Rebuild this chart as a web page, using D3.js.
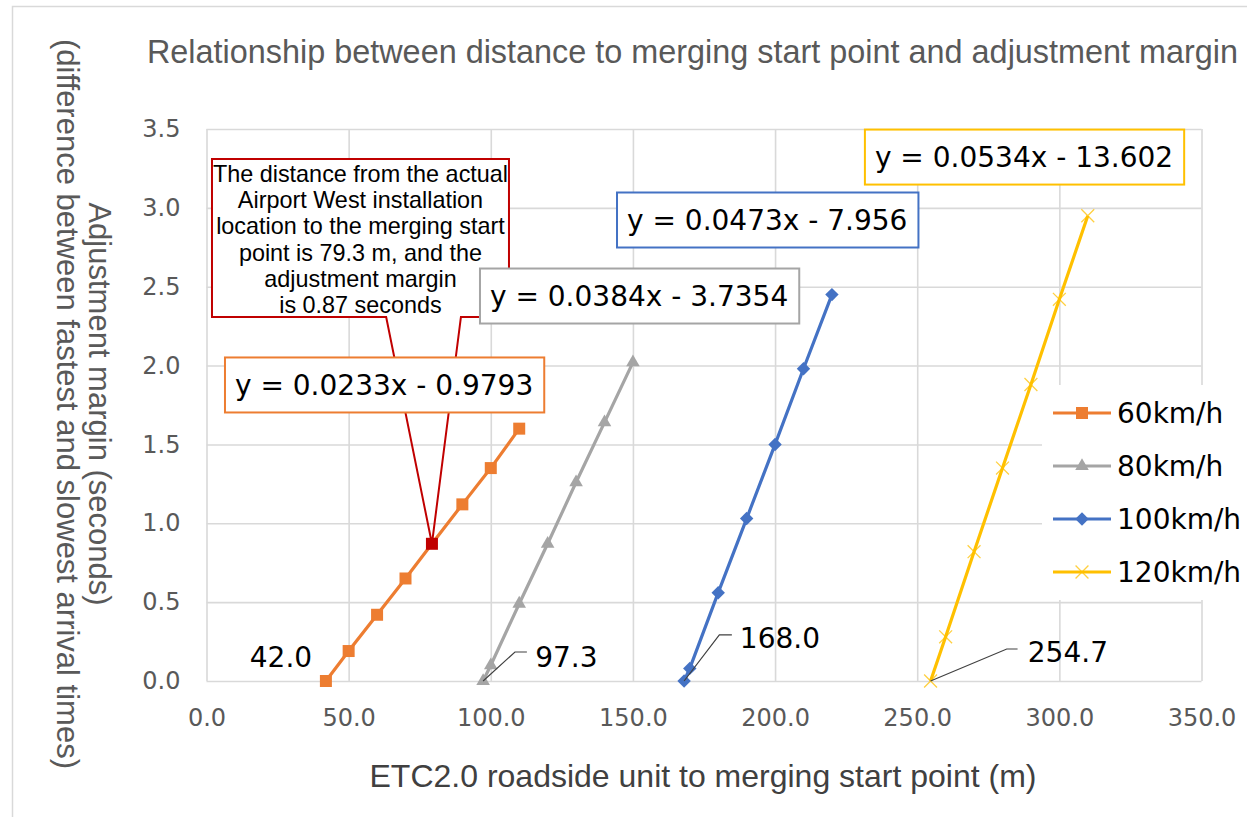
<!DOCTYPE html>
<html><head><meta charset="utf-8">
<script src="https://cdn.jsdelivr.net/npm/d3@7"></script>
<style>body{margin:0;background:#fff;overflow:hidden;} svg{display:block;}</style>
</head><body><svg id="c" width="1247" height="817"></svg>
<script>
// ---------- data ----------
const xTicks = [0, 50, 100, 150, 200, 250, 300, 350];
const yTicks = [0, 0.5, 1.0, 1.5, 2.0, 2.5, 3.0, 3.5];
const seriesNames = ["60km/h", "80km/h", "100km/h", "120km/h"];
const x60 = [42.0, 50, 60, 70, 79.3, 90, 100, 110];
const y60 = [0, 0.19, 0.42, 0.65, 0.87, 1.12, 1.35, 1.60];
const x80 = [97.3, 100, 110, 120, 130, 140, 150];
const y80 = [0, 0.10, 0.49, 0.87, 1.26, 1.64, 2.02];
const x100 = [168.0, 170, 180, 190, 200, 210, 220];
const y100 = [0, 0.08, 0.56, 1.03, 1.50, 1.98, 2.45];
const x120 = [254.7, 260, 270, 280, 290, 300, 310];
const y120 = [0, 0.28, 0.82, 1.35, 1.88, 2.42, 2.95];
const highlightX = 79.3, highlightY = 0.87;
const equations = ["y = 0.0233x - 0.9793", "y = 0.0384x - 3.7354", "y = 0.0473x - 7.956", "y = 0.0534x - 13.602"];
const interceptLabels = ["42.0", "97.3", "168.0", "254.7"];
const calloutLines = ["The distance from the actual", "Airport West installation", "location to the merging start",
  "point is 79.3 m, and the", "adjustment margin", "is 0.87 seconds"];
const titleText = "Relationship between distance to merging start point and adjustment margin";
const xTitle = "ETC2.0 roadside unit to merging start point (m)";
const yTitle1 = "Adjustment margin (seconds)";
const yTitle2 = "(difference between fastest and slowest arrival times)";

// ---------- layout / style (annotation anchors in data units) ----------
const colors = ["#ED7D31", "#A5A5A5", "#4472C4", "#FFC000"];
const eqLayout = [ {left: 6.5, mid: 1.877}, {left: 96.2, mid: 2.441}, {left: 144.4, mid: 2.923}, {left: 231.6, mid: 3.322} ];
const lblLayout = [
  {tx: 26.2, ty: 0.089, anchor: "middle", leader: null},
  {tx: 115.6, ty: 0.089, anchor: "start", leader: [[108.5, 0.184], [112.7, 0.184]]},
  {tx: 187.6, ty: 0.209, anchor: "start", leader: [[180.4, 0.292], [184.8, 0.292]]},
  {tx: 288.9, ty: 0.120, anchor: "start", leader: [[281.5, 0.203], [285.3, 0.203]]}
];
const callout = {left: 1.93, right: 106.4, top: 3.31, bottom: 2.308, wedgeL: 63.2, wedgeR: 89.5};

const svg = d3.select("#c");
const W = 1247, H = 817;
const x = d3.scaleLinear().domain([0, 350]).range([206.5, 1201.5]);
const y = d3.scaleLinear().domain([0, 3.5]).range([681, 129]);
const grid = "#d9d9d9";
const labelFont = "'DejaVu Sans', Verdana, sans-serif";
const textFont = "'Liberation Sans', Arial, sans-serif";

svg.append("rect").attr("width", W).attr("height", H).attr("fill", "#fff");
// outer chart border (top & left visible)
svg.append("path").attr("d", `M12.5,${H} V6.5 H${W}`).attr("fill", "none").attr("stroke", grid).attr("stroke-width", 1.5);

// gridlines
const gx = svg.append("g").attr("transform", `translate(0,${y(0)})`)
  .call(d3.axisBottom(x).tickValues(xTicks).tickSize(-(y(0) - y(3.5))).tickFormat(""));
const gy = svg.append("g").attr("transform", `translate(${x(0)},0)`)
  .call(d3.axisLeft(y).tickValues(yTicks).tickSize(-(x(350) - x(0))).tickFormat(""));
[gx, gy].forEach(g => { g.select(".domain").remove(); g.selectAll("line").attr("stroke", grid).attr("stroke-width", 1.6); });

// tick labels
const ax = svg.append("g").attr("transform", `translate(0,${y(0)})`)
  .call(d3.axisBottom(x).tickValues(xTicks).tickSize(0).tickPadding(28).tickFormat(d3.format(".1f")));
const ay = svg.append("g").attr("transform", `translate(${x(0)},0)`)
  .call(d3.axisLeft(y).tickValues(yTicks).tickSize(0).tickPadding(26).tickFormat(d3.format(".1f")));
[ax, ay].forEach(g => { g.select(".domain").remove();
  g.selectAll("text").attr("font-family", labelFont).attr("font-size", 24).attr("fill", "#595959"); });

// series
const series = [
  {xs: x60, ys: y60, shape: "square"},
  {xs: x80, ys: y80, shape: "triangle"},
  {xs: x100, ys: y100, shape: "diamond"},
  {xs: x120, ys: y120, shape: "x"}
];
const line = d3.line().x(d => x(d[0])).y(d => y(d[1]));

function marker(g, shape, color, cx, cy) {
  if (shape === "square") {
    g.append("path").attr("d", d3.symbol(d3.symbolSquare, 144)()).attr("fill", color)
      .attr("transform", `translate(${cx},${cy})`);
  } else if (shape === "triangle") {
    g.append("path").attr("d", d3.symbol(d3.symbolTriangle, 80)()).attr("fill", color)
      .attr("transform", `translate(${cx},${cy})`);
  } else if (shape === "diamond") {
    g.append("path").attr("d", d3.symbol(d3.symbolSquare, 90)()).attr("fill", color)
      .attr("transform", `translate(${cx},${cy}) rotate(45)`);
  } else {
    g.append("path").attr("d", d3.symbol(d3.symbolX, 110)()).attr("fill", "none")
      .attr("stroke", color).attr("stroke-width", 1.3).attr("stroke-opacity", 0.75)
      .attr("transform", `translate(${cx},${cy})`);
  }
}

series.forEach((s, i) => {
  const pts = s.xs.map((v, j) => [v, s.ys[j]]);
  const g = svg.append("g");
  g.append("path").attr("d", line(pts)).attr("fill", "none").attr("stroke", colors[i])
    .attr("stroke-width", 3.2).attr("stroke-linejoin", "round");
  pts.forEach(p => {
    const c = (i === 0 && p[0] === highlightX) ? "#C00000" : colors[i];
    marker(g, s.shape, c, x(p[0]), y(p[1]));
  });
});

// intercept data labels + leader lines
lblLayout.forEach((L, i) => {
  const s = series[i];
  if (L.leader) {
    const pts = [[s.xs[0], s.ys[0]]].concat(L.leader);
    svg.append("path").attr("d", line(pts)).attr("fill", "none").attr("stroke", "#404040").attr("stroke-width", 1.2);
  }
  svg.append("text").attr("x", x(L.tx)).attr("y", y(L.ty)).attr("text-anchor", L.anchor)
    .attr("font-family", labelFont).attr("font-size", 28).attr("fill", "#000").text(interceptLabels[i]);
});

// red callout
const cg = svg.append("g");
cg.append("rect").attr("x", x(callout.left)).attr("y", y(callout.top))
  .attr("width", x(callout.right) - x(callout.left)).attr("height", y(callout.bottom) - y(callout.top))
  .attr("fill", "#fff");
cg.append("path").attr("d",
  `M${x(callout.wedgeR)},${y(callout.bottom)} H${x(callout.right)} V${y(callout.top)} H${x(callout.left)} V${y(callout.bottom)} H${x(callout.wedgeL)} L${x(highlightX)},${y(highlightY)} Z`)
  .attr("fill", "none").attr("stroke", "#C00000").attr("stroke-width", 2).attr("stroke-linejoin", "miter");
const cx0 = (x(callout.left) + x(callout.right)) / 2;
calloutLines.forEach((t, k) => {
  cg.append("text").attr("x", cx0).attr("y", y(callout.top) + 22.7 + k * 26.3)
    .attr("text-anchor", "middle").attr("font-family", textFont).attr("font-size", 23.4).attr("fill", "#000").text(t);
});

// equation boxes (order: orange, gray, blue, yellow)
equations.forEach((eq, i) => {
  const g = svg.append("g");
  const r = g.append("rect");
  const t = g.append("text").attr("x", x(eqLayout[i].left) + 10).attr("y", y(eqLayout[i].mid)).attr("dy", "0.36em")
    .attr("font-family", labelFont).attr("font-size", 28).attr("fill", "#000").text(eq);
  const w = t.node().getComputedTextLength();
  r.attr("x", x(eqLayout[i].left)).attr("y", y(eqLayout[i].mid) - 27.5).attr("width", w + 21).attr("height", 55)
    .attr("fill", "#fff").attr("stroke", colors[i]).attr("stroke-width", 2);
});

// legend
const lg = svg.append("g");
lg.append("rect").attr("x", 1042).attr("y", 385).attr("width", 205).attr("height", 215).attr("fill", "#fff");
seriesNames.forEach((n, i) => {
  const cy = 413 + i * 53;
  lg.append("line").attr("x1", 1053).attr("x2", 1111).attr("y1", cy).attr("y2", cy)
    .attr("stroke", colors[i]).attr("stroke-width", 3);
  marker(lg, series[i].shape, colors[i], 1082, cy);
  lg.append("text").attr("x", 1117).attr("y", cy).attr("dy", "0.36em").attr("font-family", labelFont)
    .attr("font-size", 28).attr("fill", "#000").text(n);
});

// titles
svg.append("text").attr("x", 692.5).attr("y", 63).attr("text-anchor", "middle").attr("font-family", textFont)
  .attr("font-size", 32.4).attr("fill", "#595959").text(titleText);
svg.append("text").attr("x", 703).attr("y", 787).attr("text-anchor", "middle").attr("font-family", textFont)
  .attr("font-size", 32).attr("fill", "#404040").text(xTitle);
[[yTitle1, 100], [yTitle2, 68]].forEach(([t, cxp]) => {
  svg.append("text").attr("transform", `translate(${cxp},404) rotate(90)`).attr("text-anchor", "middle")
    .attr("dy", "0.35em").attr("font-family", textFont).attr("font-size", 31).attr("fill", "#595959").text(t);
});
</script></body></html>
